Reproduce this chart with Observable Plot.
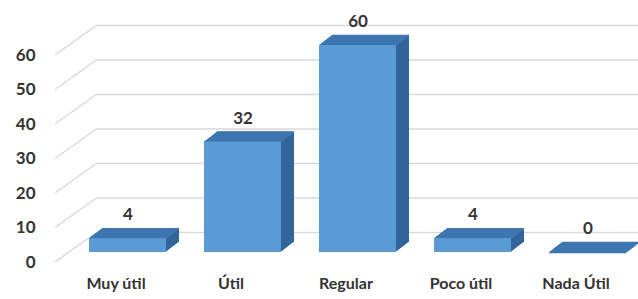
<!DOCTYPE html>
<html>
<head>
<meta charset="utf-8">
<script src="https://cdn.jsdelivr.net/npm/d3@7"></script>
<script src="https://cdn.jsdelivr.net/npm/@observablehq/plot@0.6"></script>
<style>
  html, body { margin: 0; padding: 0; background: #ffffff; }
  svg { display: block; }
</style>
</head>
<body>
<div id="chart"></div>
<script>
const categories = ["Muy útil", "Útil", "Regular", "Poco útil", "Nada Útil"];
const values = [4, 32, 60, 4, 0];
const yTicks = [0, 10, 20, 30, 40, 50, 60];

const data = categories.map((c, i) => ({cat: c, value: values[i]}));

const FRONT = "#5B9BD5";
const TOP = "#3E76B0";
const SIDE = "#31669A";
const GRID = "#d9d9d9";
const TEXT = "#333333";
const FONT = "Lato, 'Open Sans', sans-serif";

const DEPTH = 13;
const RATIO = 10 / 13;

const sideMarks = [];
const topMarks = [];
for (let k = 1; k <= DEPTH; k++) {
  sideMarks.push(Plot.barY(data, {x: "cat", y1: 0, y2: "value", fill: SIDE, dx: k, dy: -k * RATIO}));
}
for (let k = 0; k <= DEPTH; k++) {
  topMarks.push(Plot.tickY(data, {x: "cat", y: "value", stroke: TOP, strokeWidth: 1.6, dx: k, dy: -k * RATIO}));
}

const diagonals = (index, scales, vals, dimensions) => {
  const g = d3.create("svg:g");
  g.selectAll("line")
    .data(yTicks)
    .join("line")
    .attr("x1", dimensions.marginLeft - 42)
    .attr("y1", d => scales.y(d) + 10)
    .attr("x2", dimensions.marginLeft)
    .attr("y2", d => scales.y(d) - 20)
    .attr("stroke", GRID)
    .attr("stroke-width", 1.5);
  return g.node();
};

const chart = Plot.plot({
  width: 638,
  height: 299,
  marginLeft: 97,
  marginRight: 0,
  marginTop: 0,
  marginBottom: 47,
  style: {fontFamily: FONT, background: "#ffffff", overflow: "visible"},
  x: {domain: categories, range: [49, 667], padding: 0.3276, axis: null},
  y: {domain: [0, 60], range: [252, 45], axis: null},
  marks: [
    Plot.ruleY(yTicks, {y: d => d, dy: -20, stroke: GRID, strokeWidth: 1.5}),
    diagonals,
    ...sideMarks,
    ...topMarks,
    Plot.barY(data, {x: "cat", y1: 0, y2: "value", fill: FRONT}),
    Plot.text(data, {x: "cat", y: "value", text: d => String(d.value), dy: -24, fill: TEXT, fontSize: 17, fontWeight: "bold"}),
    Plot.text(yTicks, {y: d => d, text: d => String(d), frameAnchor: "left", dx: -62, dy: 10, textAnchor: "end", fill: TEXT, fontSize: 17, fontWeight: "bold"}),
    Plot.text(categories, {x: d => d, text: d => d, frameAnchor: "bottom", dy: 36, dx: -12, fill: TEXT, fontSize: 16, fontWeight: "bold"})
  ]
});
document.getElementById("chart").appendChild(chart);
</script>
</body>
</html>
